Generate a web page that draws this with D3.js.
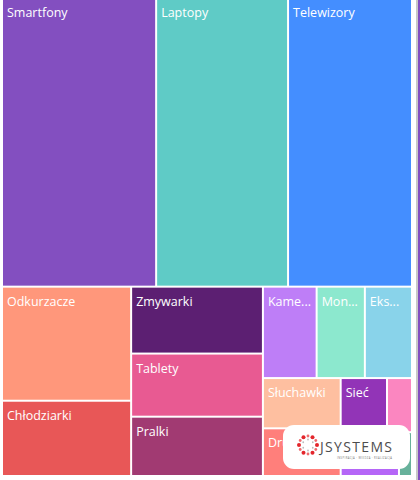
<!DOCTYPE html>
<html>
<head>
<meta charset="utf-8">
<script src="https://cdn.jsdelivr.net/npm/d3@7"></script>
<style>
  body { margin: 0; background: #fff; }
  text { font-family: "Open Sans", sans-serif; }
</style>
</head>
<body>
<div id="chart"></div>
<script>
(function()
{
    var width = 420;
    var height = 480;

    // categories and sales values, in layout order
    var categories = ["Smartfony", "Laptopy", "Telewizory", "Odkurzacze", "Chłodziarki",
        "Zmywarki", "Tablety", "Pralki", "Kamery", "Monitory", "Ekspresy",
        "Słuchawki", "Drukarki", "Sieć", "Smartwatche", "Konsole", "Akcesoria"];
    var values = [444, 380, 357, 147, 97, 88, 83, 78, 49, 44, 43, 39, 37, 25, 13.5, 25.5, 5.7];
    var colors = ["#834fc0", "#5fcbc6", "#448eff", "#ff977b", "#e85757",
        "#5c1f72", "#e85a92", "#a13a72", "#be7ef7", "#8ce8ce", "#89d3ea",
        "#febfa0", "#ff7f7b", "#9234b7", "#fb86c0", "#b566f7", "#67b19b"];

    // watermark box (covers the bottom right corner)
    var logoBox = {x: 283, y: 425, w: 127, h: 44};

    var svg = d3.select("#chart")
        .append("svg")
        .attr("width", width)
        .attr("height", height);

    var rows = categories.map(function(c, i){ return {name: c, value: values[i], color: colors[i]}; });

    var root = d3.hierarchy({children: rows})
        .sum(function(d){ return d.value || 0; });

    d3.treemap()
        .tile(d3.treemapSquarify)
        .size([408, 476])
        .paddingInner(2)(root);

    var ox = 3, oy = -1;
    var g = svg.append("g").attr("transform", "translate(" + ox + "," + oy + ")");

    var cell = g.selectAll("g.cell").data(root.leaves())
        .enter().append("g")
        .attr("class", "cell")
        .attr("transform", function(d){ return "translate(" + d.x0 + "," + d.y0 + ")"; });

    cell.append("rect")
        .attr("width", function(d){ return d.x1 - d.x0; })
        .attr("height", function(d){ return d.y1 - d.y0; })
        .attr("fill", function(d){ return d.data.color; });

    // labels, cut with "..." when the cell is too narrow
    cell.append("text")
        .attr("x", 4)
        .attr("y", 18)
        .attr("fill", "#fff")
        .attr("font-size", "12.5px")
        .text(function(d){ return d.data.name; })
        .each(function(d){
            var t = d3.select(this);
            var w = d.x1 - d.x0 - 8.55;
            var lx = d.x0 + ox + 4, ly = d.y0 + oy + 12;
            if (d.y1 - d.y0 < 22) { t.remove(); return; }
            if (lx > logoBox.x && lx < logoBox.x + logoBox.w && ly > logoBox.y && ly < logoBox.y + logoBox.h) { t.remove(); return; }
            var name = d.data.name;
            if (this.getComputedTextLength() <= w) return;
            for (var n = name.length - 1; n > 0; n--) {
                t.text(name.slice(0, n) + "...");
                if (this.getComputedTextLength() <= w) return;
            }
            t.remove();
        });

    // right edge of the report page
    svg.append("rect").attr("x", 416).attr("y", 0).attr("width", 2).attr("height", height).attr("fill", "#c8c8c8");
    svg.append("rect").attr("x", 418).attr("y", 0).attr("width", 2).attr("height", height).attr("fill", "#834fc0");

    // JSystems watermark
    var logo = svg.append("g").attr("transform", "translate(" + logoBox.x + "," + logoBox.y + ")");
    logo.append("rect")
        .attr("width", logoBox.w).attr("height", logoBox.h)
        .attr("rx", 11)
        .attr("fill", "#fff");
    var ring = logo.append("g").attr("transform", "translate(25,20)");
    d3.range(12).forEach(function(i){
        var a = i / 12 * 2 * Math.PI;
        ring.append("circle")
            .attr("cx", 9 * Math.cos(a)).attr("cy", 9 * Math.sin(a))
            .attr("r", i % 2 ? 1.4 : 2)
            .attr("fill", i % 2 ? "#ee6b6e" : "#e3262c");
    });
    d3.range(6).forEach(function(i){
        var a = (i / 6 + 1 / 12) * 2 * Math.PI;
        ring.append("circle")
            .attr("cx", 5.5 * Math.cos(a)).attr("cy", 5.5 * Math.sin(a))
            .attr("r", 0.9)
            .attr("fill", "#bbb");
    });
    logo.append("text")
        .attr("x", 37).attr("y", 26.5)
        .attr("fill", "#4d4d4d")
        .attr("font-size", "14px")
        .attr("font-family", "'DejaVu Sans Condensed', 'Liberation Sans Narrow', sans-serif")
        .attr("textLength", 72)
        .text("JSYSTEMS");
    logo.append("text")
        .attr("x", 54).attr("y", 33.5)
        .attr("fill", "#777")
        .attr("font-size", "2.6px")
        .attr("textLength", 55)
        .text("INSPIRACJA · WIEDZA · REALIZACJA");
})();
</script>
</body>
</html>
